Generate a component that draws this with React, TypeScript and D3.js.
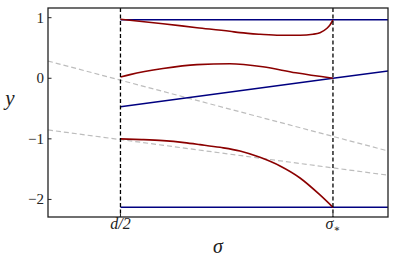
import React from "react";
import * as d3 from "d3";

// sigma positions: d/2 = 1, sigma* = 3
const sigmaTicks = [1, 3];
const sigmaTickLabels = ["d/2", "σ"];
const yTicks = [1, 0, -1, -2];
const yTickLabels = ["1", "0", "−1", "−2"];

// blue (navy) branches, from d/2 to the right edge
const blueTopX = [1, 3.52];
const blueTopY = [0.967, 0.967];
const blueMidX = [1, 3, 3.52];
const blueMidY = [-0.47, 0, 0.12];
const blueBotX = [1, 3.52];
const blueBotY = [-2.13, -2.13];

// red (darkred) branches, between d/2 and sigma*
const redTopX = [1, 1.4, 1.72, 2.03, 2.125, 2.313, 2.502, 2.69, 2.812, 2.878, 2.944, 2.972, 3];
const redTopY = [0.975, 0.9, 0.835, 0.775, 0.753, 0.726, 0.709, 0.709, 0.726, 0.753, 0.825, 0.88, 0.962];
const redMidX = [1, 1.09, 1.4, 1.72, 2.03, 2.34, 2.65, 3];
const redMidY = [0.02, 0.06, 0.16, 0.225, 0.24, 0.19, 0.09, 0];
const redBotX = [1, 1.2, 1.4, 1.6, 1.749, 1.937, 2.125, 2.313, 2.502, 2.69, 2.878, 3];
const redBotY = [-1.0, -1.012, -1.03, -1.062, -1.095, -1.14, -1.2, -1.305, -1.448, -1.646, -1.926, -2.13];

// gray dashed asymptotes across the whole panel
const grayUpX = [0.318, 3.518];
const grayUpY = [0.285, -1.2];
const grayLoX = [0.318, 3.518];
const grayLoY = [-0.853, -1.6];

const W = 396;
const H = 264;
const m = { left: 48, right: 8, top: 8, bottom: 47 };

const zip = (xs: number[], ys: number[]) => xs.map((x, i) => [x, ys[i]] as [number, number]);

export default function App() {
  const x = d3.scaleLinear().domain([0.318, 3.518]).range([m.left, W - m.right]);
  const y = d3.scaleLinear().domain([-2.29, 1.16]).range([H - m.bottom, m.top]);

  const straight = d3.line<[number, number]>().x((d) => x(d[0])).y((d) => y(d[1]));
  const smooth = d3
    .line<[number, number]>()
    .x((d) => x(d[0]))
    .y((d) => y(d[1]))
    .curve(d3.curveMonotoneX);

  const serif = "'Liberation Serif', 'DejaVu Serif', serif";
  const [x0, x1] = x.range();
  const [y0, y1] = y.range();

  return (
    <svg width={W} height={H} style={{ position: "absolute", left: 0, top: 0, background: "#fff" }}>
      <defs>
        <clipPath id="plot">
          <rect x={x0} y={y1} width={x1 - x0} height={y0 - y1} />
        </clipPath>
      </defs>
      <g clipPath="url(#plot)" fill="none">
        <path d={straight(zip(grayUpX, grayUpY)) ?? ""} stroke="#bdbdbd" strokeWidth={1.2} strokeDasharray="5,3" />
        <path d={straight(zip(grayLoX, grayLoY)) ?? ""} stroke="#bdbdbd" strokeWidth={1.2} strokeDasharray="5,3" />
        <path d={straight(zip(blueTopX, blueTopY)) ?? ""} stroke="#000080" strokeWidth={1.6} />
        <path d={straight(zip(blueMidX, blueMidY)) ?? ""} stroke="#000080" strokeWidth={1.6} />
        <path d={straight(zip(blueBotX, blueBotY)) ?? ""} stroke="#000080" strokeWidth={1.6} />
        <path d={smooth(zip(redTopX, redTopY)) ?? ""} stroke="#8b0000" strokeWidth={1.6} />
        <path d={smooth(zip(redMidX, redMidY)) ?? ""} stroke="#8b0000" strokeWidth={1.6} />
        <path d={smooth(zip(redBotX, redBotY)) ?? ""} stroke="#8b0000" strokeWidth={1.6} />
        {sigmaTicks.map((s) => (
          <line key={s} x1={x(s)} x2={x(s)} y1={y1} y2={y0} stroke="#000" strokeWidth={1.3} strokeDasharray="4,2.5" />
        ))}
      </g>
      <rect x={x0} y={y1} width={x1 - x0} height={y0 - y1} fill="none" stroke="#222" strokeWidth={1.3} />
      {yTicks.map((t, i) => (
        <g key={t}>
          <line x1={x0} x2={x0 + 3.5} y1={y(t)} y2={y(t)} stroke="#222" strokeWidth={1} />
          <text x={x0 - 4} y={y(t) + 5} textAnchor="end" fontFamily={serif} fontSize={15} fill="#222">
            {yTickLabels[i]}
          </text>
        </g>
      ))}
      {sigmaTicks.map((s, i) => (
        <g key={s}>
          <line x1={x(s)} x2={x(s)} y1={y0} y2={y0 - 3.5} stroke="#222" strokeWidth={1} />
          <text x={x(s)} y={y0 + 12} textAnchor="middle" fontFamily={serif} fontSize={16} fontStyle="italic" fill="#222">
            {sigmaTickLabels[i]}
            {i === 1 && (
              <tspan fontSize={10} dy={3} fontStyle="normal">∗</tspan>
            )}
          </text>
        </g>
      ))}
      <text x={(x0 + x1) / 2} y={253} textAnchor="middle" fontFamily={serif} fontSize={20} fontStyle="italic" fill="#222">
        σ
      </text>
      <text x={10} y={105} textAnchor="middle" fontFamily={serif} fontSize={21} fontStyle="italic" fill="#222">
        y
      </text>
    </svg>
  );
}
